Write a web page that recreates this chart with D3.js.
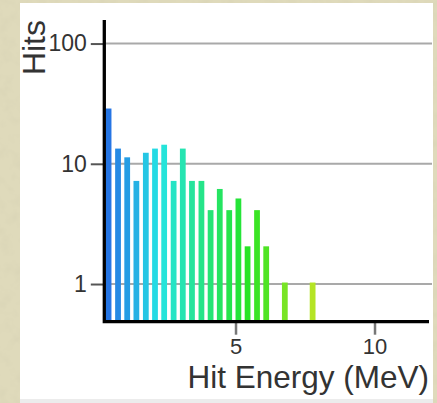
<!DOCTYPE html>
<html>
<head>
<meta charset="utf-8">
<script src="https://cdn.jsdelivr.net/npm/d3@7"></script>
<style>
  html, body { margin: 0; padding: 0; background: #dcd6b4; }
  svg { display: block; }
  text { font-family: "Liberation Sans", Arial, sans-serif; fill: #333; }
</style>
</head>
<body>
<script>
// Histogram of hit energies (bin low edge in MeV, bin width 1/3 MeV)
const binLow = [0.33, 0.67, 1.00, 1.33, 1.67, 2.00, 2.33, 2.67, 3.00, 3.33, 3.67, 4.00,
                4.33, 4.67, 5.00, 5.33, 5.67, 6.00, 6.33, 6.67, 7.00, 7.33, 7.67];
const hits   = [28, 13, 11, 7, 12, 13, 14, 7, 13, 7, 7, 4,
                6, 4, 5, 2, 4, 2, 0, 1, 0, 0, 1];
const binWidth = 1 / 3;
const yTicks = [1, 10, 100];
const xTicks = [5, 10];
const xLabel = "Hit Energy (MeV)";
const yLabel = "Hits";

const W = 437, H = 403;

const svg = d3.select("body").append("svg")
    .attr("width", W)
    .attr("height", H);

// parchment background
const defs = svg.append("defs");
const paper = defs.append("filter").attr("id", "paper")
    .attr("x", 0).attr("y", 0).attr("width", "100%").attr("height", "100%");
paper.append("feTurbulence")
    .attr("type", "fractalNoise")
    .attr("baseFrequency", 0.08)
    .attr("numOctaves", 3)
    .attr("seed", 7);
paper.append("feColorMatrix")
    .attr("type", "matrix")
    .attr("values", "0 0 0 0 0.62  0 0 0 0 0.59  0 0 0 0 0.42  0.6 0 0 0 -0.26");

svg.append("rect").attr("width", W).attr("height", H).attr("fill", "#dfdabb");
svg.append("rect").attr("width", W).attr("height", H).attr("filter", "url(#paper)");

// white panel
svg.append("rect")
    .attr("x", 20).attr("y", 3)
    .attr("width", 413).attr("height", 396)
    .attr("fill", "#fff");
svg.append("rect")
    .attr("x", 20).attr("y", 399)
    .attr("width", 413).attr("height", 4)
    .attr("fill", "#ececec");

// scales
const x = d3.scaleLinear()
    .domain([0.28, 11.96])
    .range([104.3, 429]);

const y = d3.scaleLog()
    .domain([0.486, 157])
    .range([321.7, 20]);

const hue = d3.scaleLinear()
    .domain([d3.min(binLow), d3.max(binLow)])
    .range([215, 75]);

// gridlines
svg.append("g")
    .selectAll("line")
    .data(yTicks)
    .enter().append("line")
    .attr("x1", x.range()[0])
    .attr("x2", 432)
    .attr("y1", d => y(d))
    .attr("y2", d => y(d))
    .attr("stroke", "#a9a9a9")
    .attr("stroke-width", 2);

// bars
const bins = binLow.map((lo, i) => ({lo: lo, hi: lo + binWidth, v: hits[i]}))
    .filter(d => d.v > 0);

svg.append("g")
    .selectAll("rect")
    .data(bins)
    .enter().append("rect")
    .attr("x", d => x(d.lo))
    .attr("width", d => x(d.hi) - x(d.lo) - 3.5)
    .attr("y", d => y(d.v) - 1.5)
    .attr("height", d => y.range()[0] - y(d.v) + 1.5)
    .attr("fill", d => d3.hsl(hue(d.lo), 0.78, 0.52));

// y axis ticks
const yAxis = svg.append("g")
    .attr("transform", "translate(" + x.range()[0] + ",0)")
    .call(d3.axisLeft(y).tickValues(yTicks).tickFormat(d3.format("d")).tickSize(13.5).tickPadding(4));
yAxis.select(".domain").remove();
yAxis.selectAll(".tick line").attr("stroke", "#555").attr("stroke-width", 2);
yAxis.selectAll(".tick text").style("font-size", "23px").attr("fill", "#333");

// x axis ticks
const xAxis = svg.append("g")
    .attr("transform", "translate(0," + y.range()[0] + ")")
    .call(d3.axisBottom(x).tickValues(xTicks).tickSize(13).tickPadding(4));
xAxis.select(".domain").remove();
xAxis.selectAll(".tick line").attr("stroke", "#777").attr("stroke-width", 2.5);
xAxis.selectAll(".tick text").style("font-size", "22px").attr("fill", "#333");

// axis lines
svg.append("path")
    .attr("d", "M" + x.range()[0] + "," + y.range()[1] +
               "V" + y.range()[0] + "H" + x.range()[1])
    .attr("fill", "none")
    .attr("stroke", "#000")
    .attr("stroke-width", 3.3);

// axis labels
svg.append("text")
    .attr("x", x.range()[1])
    .attr("y", 387.5)
    .attr("text-anchor", "end")
    .style("font-size", "31.5px")
    .text(xLabel);

svg.append("text")
    .attr("transform", "translate(45," + y.range()[1] + ") rotate(-90)")
    .attr("text-anchor", "end")
    .style("font-size", "32px")
    .text(yLabel);
</script>
</body>
</html>
